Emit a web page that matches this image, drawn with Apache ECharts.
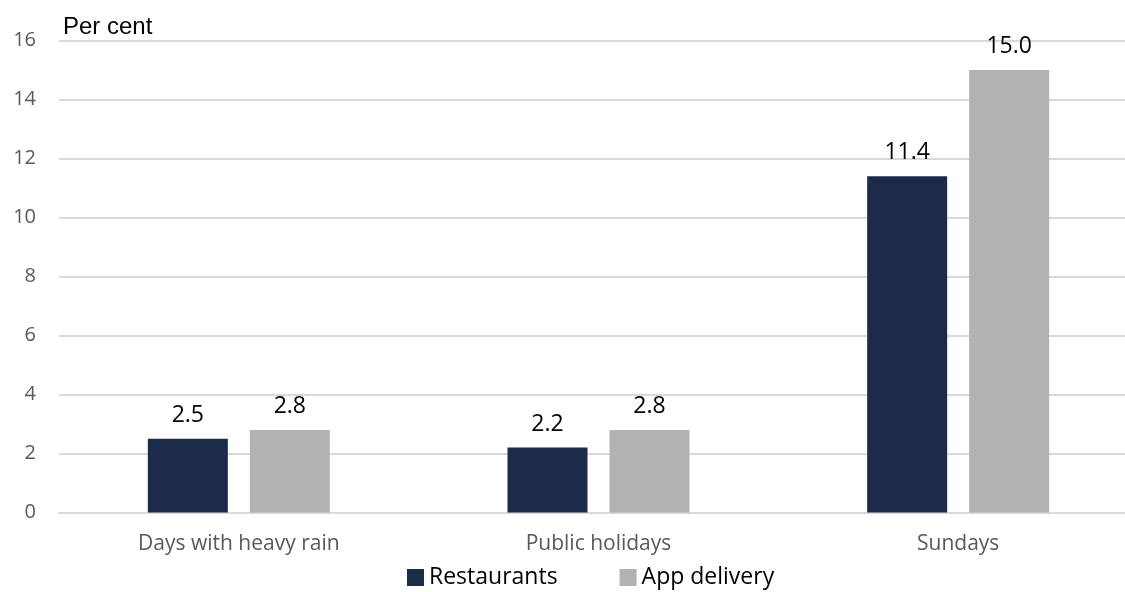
<!DOCTYPE html>
<html><head><meta charset="utf-8">
<script src="https://cdn.jsdelivr.net/npm/echarts@6/dist/echarts.min.js"></script>
<style>html,body{margin:0;padding:0;background:#fff}#c{width:1125px;height:592px}</style>
</head><body><div id="c"></div>
<script>
const categories = ["Days with heavy rain", "Public holidays", "Sundays"];
const restaurants = [2.5, 2.2, 11.4];
const appDelivery = [2.8, 2.8, 15.0];
const yTicks = [0, 2, 4, 6, 8, 10, 12, 14, 16];

const chart = echarts.init(document.getElementById('c'), null, {renderer: 'canvas'});
const lbl = {show: true, position: 'top', distance: 12, color: '#000', fontSize: 23,
  fontFamily: 'Open Sans', formatter: p => p.value.toFixed(1)};
chart.setOption({
  animation: false,
  grid: {left: 59, top: 40.5, width: 1079, height: 472, containLabel: false, outerBoundsMode: 'none'},
  title: {text: 'Per cent', left: 58, top: 10,
    textStyle: {fontFamily: 'Liberation Sans', fontSize: 24, fontWeight: 'normal', color: '#000'}},
  legend: {top: 566, left: 407, padding: 0, itemWidth: 17, itemHeight: 17, itemGap: 62,
    icon: 'rect', textStyle: {fontFamily: 'Open Sans', fontSize: 23, color: '#000'},
    data: ['Restaurants', 'App delivery']},
  xAxis: {type: 'category', data: categories,
    axisLine: {lineStyle: {color: '#d9d9d9', width: 2}}, axisTick: {show: false},
    axisLabel: {color: '#595959', fontSize: 21, fontFamily: 'Open Sans', margin: 21}},
  yAxis: {type: 'value', min: yTicks[0], max: yTicks[yTicks.length-1], interval: 2,
    axisLine: {show: false}, axisTick: {show: false},
    splitLine: {lineStyle: {color: '#d9d9d9', width: 2}},
    axisLabel: {color: '#595959', fontSize: 20, fontFamily: 'Open Sans', margin: 23}},
  series: [
    {name: 'Restaurants', type: 'bar', data: restaurants, barWidth: 80, barGap: '27.5%',
      itemStyle: {color: '#1b2b49'}, label: lbl},
    {name: 'App delivery', type: 'bar', data: appDelivery, barWidth: 80,
      itemStyle: {color: '#b2b2b2'}, label: lbl}
  ]
});
</script></body></html>
